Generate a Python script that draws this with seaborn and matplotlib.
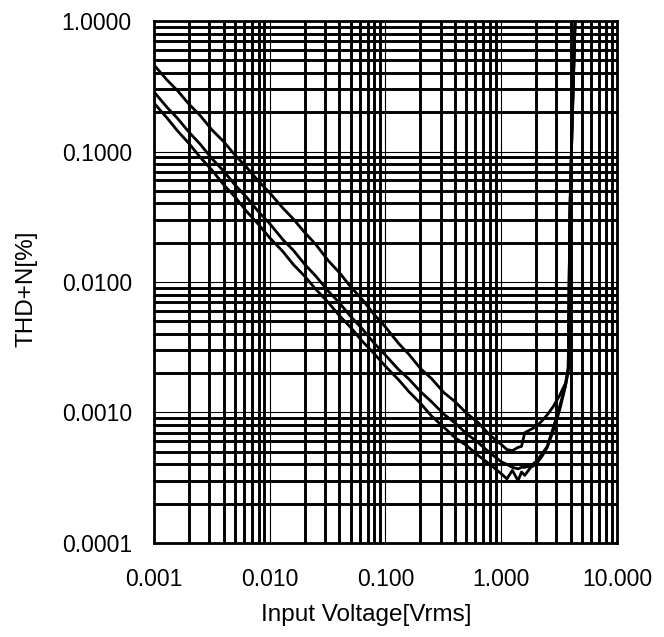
import pandas as pd
import matplotlib
matplotlib.use('Agg')
import matplotlib.pyplot as plt
import matplotlib.ticker as mticker
import seaborn as sns

# input voltage [Vrms]
volts = [0.001, 0.0013, 0.0016, 0.002, 0.0025, 0.0032, 0.004, 0.005, 0.0063, 0.008,
         0.01, 0.013, 0.016, 0.02, 0.025, 0.032, 0.04, 0.05, 0.063, 0.08,
         0.1, 0.13, 0.16, 0.2, 0.25, 0.32, 0.4, 0.5, 0.63, 0.8,
         1.0, 1.12, 1.25, 1.4, 1.5, 1.6, 1.8, 2.0, 2.25, 2.5,
         2.8, 3.2, 3.6, 3.8, 3.93, 4.1, 4.35, 4.5]

# THD+N [%] for the three curves
thd_a = [0.46, 0.352, 0.292, 0.231, 0.189, 0.145, 0.119, 0.0940, 0.0758, 0.0592,
         0.0482, 0.0368, 0.0304, 0.0240, 0.0194, 0.0146, 0.0118, 0.00920, 0.00735, 0.00562,
         0.00452, 0.00338, 0.00278, 0.00218, 0.00182, 0.00142, 0.00121, 0.00099, 0.00084, 0.00067,
         0.00057, 0.00052, 0.00051, 0.00054, 0.00055, 0.00070, 0.00074, 0.00078, 0.00086, 0.00096,
         0.00110, 0.00135, 0.00168, 0.0022, 0.036, 0.16, 1.0, 1.3]
thd_b = [0.286, 0.217, 0.179, 0.141, 0.114, 0.0872, 0.0708, 0.0555, 0.0447, 0.0345,
         0.0280, 0.0211, 0.0175, 0.0137, 0.0111, 0.00852, 0.00692, 0.00545, 0.00438, 0.00339,
         0.00275, 0.00213, 0.00180, 0.00145, 0.00121, 0.00097, 0.00083, 0.00069, 0.00059, 0.00049,
         0.00042, 0.00040, 0.00038, 0.00037, 0.00038, 0.00038, 0.00039, 0.00042, 0.00048, 0.00055,
         0.00075, 0.00111, 0.00162, 0.0021, 0.034, 0.15, 0.95, 1.3]
thd_c = [0.235, 0.180, 0.1435, 0.1155, 0.0905, 0.0712, 0.0556, 0.0450, 0.0348, 0.0276,
         0.0218, 0.0171, 0.0136, 0.0111, 0.00880, 0.00698, 0.00552, 0.00449, 0.00352, 0.00282,
         0.00226, 0.00178, 0.00144, 0.00118, 0.00094, 0.00077, 0.00064, 0.00056, 0.00047, 0.00040,
         0.00034, 0.00031, 0.00036, 0.00030, 0.00035, 0.00033, 0.00038, 0.00040, 0.00046, 0.00054,
         0.00071, 0.00104, 0.00160, 0.0021, 0.035, 0.15, 0.95, 1.3]

df = pd.DataFrame({
    'volts': volts * 3,
    'thd': thd_a + thd_b + thd_c,
    'curve': ['A'] * len(volts) + ['B'] * len(volts) + ['C'] * len(volts),
})

sns.set_theme(style='white')
plt.rcParams['font.family'] = ['Liberation Sans', 'DejaVu Sans']

fig = plt.figure(figsize=(6.64, 6.37), dpi=100)
ax = fig.add_axes([0.232, 0.1476, 0.697, 0.8194])

sns.lineplot(data=df, x='volts', y='thd', units='curve', estimator=None, sort=False,
             color='black', lw=2.0, ax=ax, zorder=3)

ax.set_xscale('log')
ax.set_yscale('log')
ax.set_xlim(0.001, 10)
ax.set_ylim(0.0001, 1)

ax.xaxis.set_major_locator(mticker.LogLocator(base=10, numticks=10))
ax.yaxis.set_major_locator(mticker.LogLocator(base=10, numticks=10))
ax.xaxis.set_minor_locator(mticker.LogLocator(base=10, subs=range(2, 10), numticks=100))
ax.yaxis.set_minor_locator(mticker.LogLocator(base=10, subs=range(2, 10), numticks=100))
ax.xaxis.set_major_formatter(mticker.FormatStrFormatter('%.3f'))
ax.yaxis.set_major_formatter(mticker.FormatStrFormatter('%.4f'))
ax.xaxis.set_minor_formatter(mticker.NullFormatter())
ax.yaxis.set_minor_formatter(mticker.NullFormatter())

ax.grid(which='major', color='black', lw=0.8)
ax.grid(which='minor', color='black', lw=2.1)
ax.set_axisbelow(True)

ax.tick_params(which='both', length=0, labelsize=16.5, colors='black')
ax.tick_params(axis='x', pad=18)
ax.tick_params(axis='y', pad=16)

for sp in ax.spines.values():
    sp.set_color('black')
    sp.set_linewidth(2.0)

ax.set_xlabel('Input Voltage[Vrms]', fontsize=17.5, color='black')
ax.set_ylabel('THD+N[%]', fontsize=17.5, color='black')
ax.xaxis.set_label_coords(0.458, -0.116)
ax.yaxis.set_label_coords(-0.251, 0.487)

fig.savefig('out.png', dpi=100)
